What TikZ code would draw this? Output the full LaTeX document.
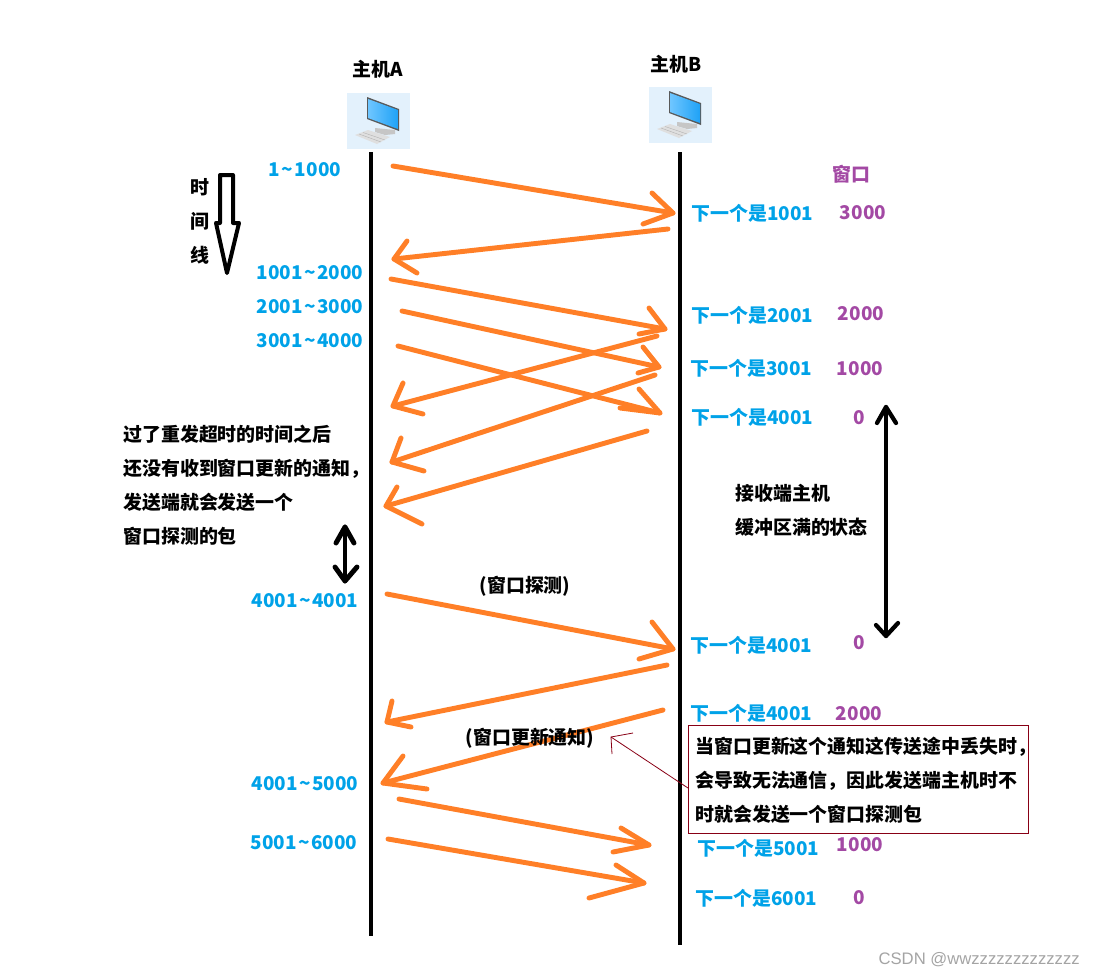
\documentclass[tikz,border=0pt]{standalone}
\usepackage{fontspec}
\setmainfont{Noto Sans CJK SC}
\newfontfamily\markfont{Liberation Sans}
\definecolor{seqblue}{HTML}{00A2E8}
\definecolor{winpurple}{HTML}{A349A4}
\definecolor{paintorange}{HTML}{FF7F27}
\definecolor{notered}{HTML}{880015}
\definecolor{iconback}{HTML}{E3F1FC}
\definecolor{screenleft}{HTML}{6FC6FF}
\definecolor{screenright}{HTML}{1FA2F6}
\definecolor{markgray}{HTML}{A4A4A4}
\tikzset{
	seqlabel/.style={inner sep=0, text=seqblue, font=\fontsize{14.2}{17}\selectfont\bfseries},
	nextlabel/.style={seqlabel, anchor=west},
	winlabel/.style={inner sep=0, text=winpurple, font=\fontsize{14.2}{17}\selectfont\bfseries},
	textlabel/.style={inner sep=0, font=\fontsize{14.2}{25.5}\selectfont\bfseries},
	noteleft/.style={textlabel, anchor=west, align=left},
	handline/.style={line width=3.7pt, color=paintorange, line cap=round, line join=round},
	blackline/.style={line width=3.7pt, line cap=round, line join=round},
	hostline/.style={line width=3.7pt},
	noteline/.style={line width=.6pt, color=notered},
}
\newcommand{\seqto}{\kern.08em\textasciitilde\kern.08em}
% hand drawn arrow: name, start, tip, two barb ends
\newcommand{\handarrow}[5]{
	\coordinate (#1s) at (#2);
	\coordinate (#1t) at (#3);
	\coordinate (#1a) at (#4);
	\coordinate (#1b) at (#5);
	\draw[handline] (#1s) -- (#1t);
	\draw[handline] (#1a) -- (#1t) -- (#1b);
}
% host icon, from the upper left corner of its square
\newcommand{\hosticon}[3]{
	\begin{scope}[shift={(#2,#3)}]
		\node[fill=iconback, minimum width=47.25pt, minimum height=42pt, inner sep=0, anchor=north west] (#1) at (0,0) {};
		\fill[gray!45] (28,35) -- (48,37) -- (48,41) -- (38,42) -- (28,39) -- cycle;
		\fill[gray!25] (8,42) -- (21,37) -- (43,44) -- (30,51) -- cycle;
		\draw[gray!60, line width=.3pt] (12,41) -- (34,49) (16,39.5) -- (38,47);
		\fill[gray!70!black] (20,4) -- (52,16) -- (52,38) -- (20,26) -- cycle;
		\shade[left color=screenleft, right color=screenright] (21,6) -- (51,17) -- (51,36) -- (21,25) -- cycle;
	\end{scope}
}
\begin{document}
\begin{tikzpicture}[x=.75pt, y=-.75pt]
	\useasboundingbox (0,0) rectangle (1095,975);
% draw hosts
	\hosticon{iconA}{347}{93}
	\hosticon{iconB}{649}{87}
	\node[textlabel] (hostA) at (378,69) {主机A};
	\node[textlabel] (hostB) at (676,64) {主机B};
	\coordinate (lineAtop) at (371,152);
	\coordinate (lineAend) at (371,936);
	\coordinate (lineBtop) at (680,152);
	\coordinate (lineBend) at (680,945);
	\draw[hostline] (lineAtop) -- (lineAend);
	\draw[hostline] (lineBtop) -- (lineBend);

% draw time line
	\draw[line width=3pt, line join=round] (220,175) -- (233,175) -- (233,223) -- (239,223) -- (227,273) -- (216,223) -- (220,223) -- cycle;
	\node[textlabel] (timeA) at (200,187) {时};
	\node[textlabel] (timeB) at (200,221) {间};
	\node[textlabel] (timeC) at (200,255) {线};

% draw segments
	\handarrow{segA}{393,166}{673,213}{652,193}{643,224}
	\handarrow{ackA}{668,229}{394,259}{407,241}{417,273}
	\handarrow{segB}{391,279}{665,329}{649,308}{639,334}
	\handarrow{segC}{402,311}{659,367}{643,347}{638,373}
	\handarrow{segD}{398,346}{660,413}{639,389}{620,408}
	\handarrow{ackB}{657,336}{393,406}{403,383}{423,414}
	\handarrow{ackC}{655,375}{392,462}{401,438}{424,471}
	\handarrow{ackD}{647,431}{386,506}{397,487}{422,524}
	\handarrow{probe}{387,594}{673,649}{652,622}{639,659}
	\handarrow{ackE}{667,665}{387,722}{392,701}{411,727}
	\handarrow{update}{663,710}{383,783}{403,756}{427,789}
	\handarrow{segE}{399,799}{649,845}{621,828}{613,852}
	\handarrow{segF}{388,839}{644,883}{616,865}{589,898}

% draw double arrows
	\coordinate (waitTop) at (345,527);
	\coordinate (waitEnd) at (345,581);
	\coordinate (fullTop) at (886,407);
	\coordinate (fullEnd) at (886,636);
	\draw[blackline] (waitTop) -- (waitEnd);
	\draw[blackline] (336,543) -- (waitTop) -- (354,543);
	\draw[blackline] (335,567) -- (waitEnd) -- (357,567);
	\draw[blackline, line width=3.2pt] (fullTop) -- (fullEnd);
	\draw[blackline, line width=3.2pt] (877,423) -- (fullTop) -- (896,423);
	\draw[blackline, line width=3.2pt] (876,625) -- (fullEnd) -- (898,623);

% sequence numbers of host A
	\foreach \n/\y/\x/\t in {a/170/305/1\seqto1000, b/273/310/1001\seqto2000, c/307/310/2001\seqto3000, d/341/310/3001\seqto4000, e/601/305/4001\seqto4001, f/784/305/4001\seqto5000, g/843/304/5001\seqto6000}
		\node[seqlabel] (seq\n) at (\x,\y) {\t};

% next expected numbers and window of host B
	\foreach \n/\x/\y/\t in {a/691/213/1001, b/691/315/2001, c/690/368/3001, d/691/417/4001, e/690/645/4001, f/690/713/4001, g/697/848/5001, h/695/898/6001}
		\node[nextlabel] (next\n) at (\x,\y) {下一个是\t};
	\node[winlabel] (window) at (851,174) {窗口};
	\foreach \n/\x/\y/\t in {a/863/213/3000, b/861/314/2000, c/860/369/1000, d/859/418/0, e/859/643/0, f/859/714/2000, g/860/845/1000, h/859/898/0}
		\node[winlabel] (win\n) at (\x,\y) {\t};

% notes
	\node[noteleft] (noteTimeout) at (123,485) {过了重发超时的时间之后\\还没有收到窗口更新的通知，\\发送端就会发送一个\\窗口探测的包};
	\node[noteleft] (noteFull) at (735,510) {接收端主机\\缓冲区满的状态};
	\node[textlabel] (noteProbe) at (525,586) {(窗口探测)};
	\node[textlabel] (noteUpdate) at (530,738) {(窗口更新通知)};
	\node[draw=notered, line width=.75pt, fill=white, inner sep=0, minimum width=255pt, minimum height=81pt, anchor=west] (noteLost) at (688,779) {};
	\node[noteleft] (noteLostText) at (695,780) {当窗口更新这个通知这传送途中丢失时，\\会导致无法通信，因此发送端主机时不\\时就会发送一个窗口探测包};
	\coordinate (leaderTip) at (611,737);
	\coordinate (leaderEnd) at (688,788);
	\draw[noteline] (leaderEnd) -- (leaderTip);
	\draw[noteline] (633,733) -- (leaderTip) -- (612,754);

% watermark
	\node[inner sep=0, text=markgray, font=\markfont\fontsize{12.5}{15}\selectfont, anchor=east] (mark) at (1080,960) {CSDN @wwzzzzzzzzzzzzz};
\end{tikzpicture}
\end{document}
